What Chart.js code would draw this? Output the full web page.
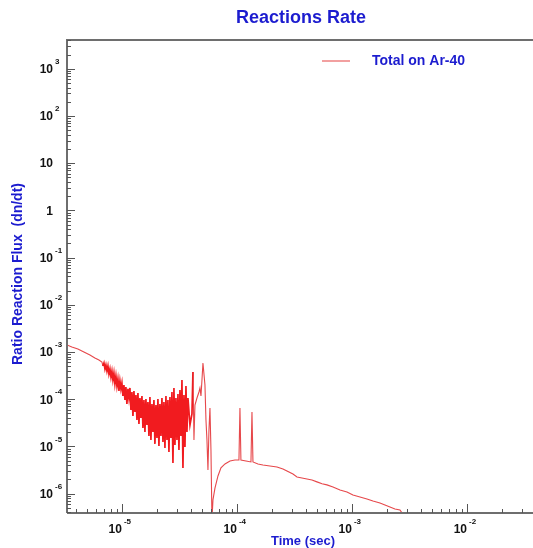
<!DOCTYPE html>
<html>
<head>
<meta charset="utf-8">
<script src="https://cdn.jsdelivr.net/npm/chart.js@4.4.1/dist/chart.umd.min.js"></script>
<style>
  html, body { margin: 0; padding: 0; background: #ffffff; }
  #wrap { width: 533px; height: 548px; }
</style>
</head>
<body>
<div id="wrap"><canvas id="chart" width="533" height="548"></canvas></div>
<script>
// Reactions rate, total on Ar-40 (log-log)
const timeSec = [
  3.33e-6, 3.67e-6, 4.14e-6, 4.67e-6, 5.27e-6, 5.82e-6, 6.31e-6, 6.70e-6,
  6.84e-6, 6.98e-6, 7.12e-6, 7.26e-6, 7.41e-6, 7.56e-6, 7.71e-6, 7.87e-6,
  8.03e-6, 8.19e-6, 8.35e-6, 8.52e-6, 8.69e-6, 8.87e-6, 9.05e-6, 9.23e-6,
  9.42e-6, 9.61e-6, 9.80e-6, 1.00e-5, 1.02e-5, 1.041e-5, 1.062e-5, 1.083e-5,
  1.105e-5, 1.128e-5, 1.151e-5, 1.174e-5, 1.198e-5, 1.222e-5, 1.247e-5, 1.272e-5,
  1.298e-5, 1.324e-5, 1.351e-5, 1.378e-5, 1.406e-5, 1.434e-5, 1.463e-5, 1.493e-5,
  1.523e-5, 1.554e-5, 1.585e-5, 1.617e-5, 1.650e-5, 1.683e-5, 1.717e-5, 1.752e-5,
  1.787e-5, 1.824e-5, 1.860e-5, 1.898e-5, 1.936e-5, 1.976e-5, 2.016e-5, 2.056e-5,
  2.098e-5, 2.140e-5, 2.184e-5, 2.228e-5, 2.273e-5, 2.319e-5, 2.366e-5, 2.414e-5,
  2.463e-5, 2.512e-5, 2.563e-5, 2.615e-5, 2.668e-5, 2.722e-5, 2.777e-5, 2.833e-5,
  2.891e-5, 2.949e-5, 3.009e-5, 3.070e-5, 3.132e-5, 3.195e-5, 3.260e-5, 3.326e-5,
  3.393e-5, 3.462e-5, 3.532e-5, 3.603e-5, 3.676e-5, 3.750e-5, 3.904e-5, 4.063e-5,
  4.145e-5, 4.229e-5, 4.315e-5, 4.491e-5, 4.675e-5, 4.769e-5, 4.866e-5, 4.964e-5,
  5.064e-5, 5.271e-5, 5.378e-5, 5.486e-5, 5.597e-5, 5.711e-5, 5.826e-5, 5.944e-5,
  6.064e-5, 6.187e-5, 6.44e-5, 6.84e-5, 7.26e-5, 7.87e-5, 8.70e-5, 9.61e-5,
  1.041e-4, 1.062e-4, 1.083e-4, 1.198e-4, 1.324e-4, 1.351e-4, 1.378e-4, 1.523e-4,
  1.683e-4, 1.936e-4, 2.228e-4, 2.512e-4, 2.722e-4, 3.070e-4, 3.326e-4, 3.676e-4,
  4.063e-4, 4.49e-4, 4.96e-4, 5.49e-4, 6.06e-4, 6.84e-4, 7.87e-4, 9.05e-4,
  1.020e-3, 1.174e-3, 1.350e-3, 1.523e-3, 1.752e-3, 1.936e-3, 2.140e-3, 2.366e-3,
  2.615e-3, 2.833e-3
];

const totalOnAr40 = [
  1.41e-3, 1.28e-3, 1.16e-3, 1.00e-3, 8.64e-4, 7.46e-4, 6.77e-4, 6.14e-4,
  5.05e-4, 5.85e-4, 4.36e-4, 5.30e-4, 3.96e-4, 5.05e-4, 3.42e-4, 4.36e-4,
  2.95e-4, 3.96e-4, 2.55e-4, 3.59e-4, 2.10e-4, 3.10e-4, 1.90e-4, 2.68e-4,
  1.49e-4, 2.43e-4, 1.65e-4, 2.20e-4, 1.17e-4, 2.00e-4, 9.62e-5, 1.81e-4,
  7.92e-5, 1.65e-4, 1.06e-4, 1.73e-4, 5.91e-5, 1.42e-4, 4.41e-5, 1.49e-4,
  5.36e-5, 1.23e-4, 3.63e-5, 1.35e-4, 2.98e-5, 1.06e-4, 4.00e-5, 1.17e-4,
  2.46e-5, 9.62e-5, 2.02e-5, 1.01e-4, 2.84e-5, 8.73e-5, 1.66e-5, 1.11e-4,
  1.37e-5, 7.92e-5, 2.02e-5, 9.62e-5, 1.13e-5, 7.54e-5, 1.51e-5, 1.01e-4,
  1.02e-5, 7.92e-5, 1.66e-5, 1.06e-4, 1.24e-5, 8.73e-5, 9.26e-6, 1.17e-4,
  1.37e-5, 9.62e-5, 7.62e-6, 1.11e-4, 1.51e-5, 1.42e-4, 4.46e-6, 1.73e-4,
  1.07e-5, 1.06e-4, 1.37e-5, 1.29e-4, 8.40e-6, 1.57e-4, 1.66e-5, 2.55e-4,
  3.50e-6, 1.23e-4, 9.72e-6, 1.90e-4, 2.02e-5, 1.06e-4, 2.84e-5, 4.86e-5,
  3.77e-4, 1.37e-5, 7.54e-5, 1.06e-4, 1.42e-4, 1.73e-4, 1.17e-4, 2.55e-4,
  5.85e-4, 2.00e-4, 3.63e-5, 1.37e-5, 3.17e-6, 2.23e-5, 6.51e-5, 8.40e-6,
  2.77e-7, 7.34e-7, 1.31e-6, 2.36e-6, 3.50e-6, 4.24e-6, 4.91e-6, 5.16e-6,
  5.16e-6, 6.51e-5, 5.16e-6, 4.91e-6, 4.68e-6, 5.36e-5, 4.68e-6, 4.24e-6,
  4.04e-6, 3.85e-6, 3.67e-6, 3.33e-6, 3.02e-6, 2.60e-6, 2.25e-6, 2.14e-6,
  2.04e-6, 1.94e-6, 1.77e-6, 1.61e-6, 1.53e-6, 1.38e-6, 1.19e-6, 1.08e-6,
  9.33e-7, 8.50e-7, 7.71e-7, 6.99e-7, 6.34e-7, 5.75e-7, 5.22e-7, 4.73e-7,
  4.51e-7, 3.36e-7
];

const xDecades = [-6, -5, -4, -3, -2];
const yDecades = [-6, -5, -4, -3, -2, -1, 0, 1, 2, 3];

const X_MIN = 3.33e-6, X_MAX = 3.75e-2;
const Y_MIN = 3.88e-7, Y_MAX = 4.07e3;

// index range of the dense, oscillating part (drawn a bit heavier)
const NOISY_FROM = 8, NOISY_TO = 96;

const BLUE = '#1c1ccf';
const AXIS = '#6e6e6e';

function decadeLabel(e) {
  if (e === 0) return ['1', ''];
  if (e === 1) return ['10', ''];
  return ['10', String(e)];
}

const framePlugin = {
  id: 'frame',
  afterDraw(chart) {
    const ctx = chart.ctx;
    const a = chart.chartArea;
    const xs = chart.scales.x, ys = chart.scales.y;
    ctx.save();

    // frame
    ctx.strokeStyle = AXIS;
    ctx.lineWidth = 2;
    ctx.beginPath();
    ctx.moveTo(a.left, a.bottom);
    ctx.lineTo(a.left, a.top);
    ctx.lineTo(a.right, a.top);
    ctx.moveTo(a.left, a.bottom);
    ctx.lineTo(a.right, a.bottom);
    ctx.stroke();

    // ticks
    ctx.lineWidth = 1;
    ctx.strokeStyle = '#555';
    ctx.beginPath();
    for (const e of yDecades.concat([-7, 4])) {
      for (let m = 1; m <= 9; m++) {
        const v = m * Math.pow(10, e);
        if (v < Y_MIN || v > Y_MAX) continue;
        const py = Math.round(ys.getPixelForValue(v)) + 0.5;
        const len = m === 1 ? 8 : 4;
        ctx.moveTo(a.left, py);
        ctx.lineTo(a.left + len, py);
      }
    }
    for (const e of xDecades) {
      for (let m = 1; m <= 9; m++) {
        const v = m * Math.pow(10, e);
        if (v < X_MIN || v > X_MAX) continue;
        const px = Math.round(xs.getPixelForValue(v)) + 0.5;
        const len = m === 1 ? 9 : 4;
        ctx.moveTo(px, a.bottom);
        ctx.lineTo(px, a.bottom - len);
      }
    }
    ctx.stroke();

    // y tick labels
    ctx.fillStyle = '#111';
    for (const e of yDecades) {
      const py = ys.getPixelForValue(Math.pow(10, e));
      const [base, sup] = decadeLabel(e);
      ctx.font = 'bold 12px "Liberation Sans", Arial, sans-serif';
      ctx.textAlign = 'right';
      ctx.textBaseline = 'middle';
      ctx.fillText(base, a.left - 14, py + 1);
      if (sup) {
        ctx.font = 'bold 8px "Liberation Sans", Arial, sans-serif';
        ctx.textAlign = 'left';
        ctx.fillText(sup, a.left - 12, py - 7);
      }
    }

    // x tick labels
    for (const e of xDecades) {
      const v = Math.pow(10, e);
      if (v < X_MIN || v > X_MAX) continue;
      const px = xs.getPixelForValue(v);
      const [base, sup] = decadeLabel(e);
      ctx.font = 'bold 12px "Liberation Sans", Arial, sans-serif';
      ctx.textAlign = 'right';
      ctx.textBaseline = 'middle';
      ctx.fillText(base, px, a.bottom + 17);
      if (sup) {
        ctx.font = 'bold 8px "Liberation Sans", Arial, sans-serif';
        ctx.textAlign = 'left';
        ctx.fillText(sup, px + 2, a.bottom + 9);
      }
    }

    // titles
    ctx.fillStyle = BLUE;
    ctx.textAlign = 'center';
    ctx.textBaseline = 'middle';
    ctx.font = 'bold 18px "Liberation Sans", Arial, sans-serif';
    ctx.fillText('Reactions Rate', (a.left + a.right) / 2 + 1, 18);
    ctx.font = 'bold 13px "Liberation Sans", Arial, sans-serif';
    ctx.fillText('Time (sec)', (a.left + a.right) / 2 + 3, 541);
    ctx.save();
    ctx.translate(18, 274);
    ctx.rotate(-Math.PI / 2);
    ctx.font = 'bold 14px "Liberation Sans", Arial, sans-serif';
    ctx.fillText('Ratio Reaction Flux  (dn/dt)', 0, 0);
    ctx.restore();

    // legend
    ctx.strokeStyle = '#f2a0a0';
    ctx.lineWidth = 2;
    ctx.beginPath();
    ctx.moveTo(322, 61);
    ctx.lineTo(350, 61);
    ctx.stroke();
    ctx.fillStyle = BLUE;
    ctx.textAlign = 'left';
    ctx.font = 'bold 14px "Liberation Sans", Arial, sans-serif';
    ctx.fillText('Total on Ar-40', 372, 61);

    ctx.restore();
  }
};

const inNoise = (ctx) => ctx.p0DataIndex >= NOISY_FROM && ctx.p1DataIndex <= NOISY_TO;

new Chart(document.getElementById('chart'), {
  type: 'line',
  data: {
    datasets: [{
      label: 'Total on Ar-40',
      data: timeSec.map((t, i) => ({ x: t, y: totalOnAr40[i] })),
      borderColor: 'rgba(228, 30, 34, 0.85)',
      borderWidth: 1.1,
      pointRadius: 0,
      tension: 0,
      fill: false,
      clip: 0,
      segment: {
        borderWidth: (ctx) => inNoise(ctx) ? 1.7 : 1.1,
        borderColor: (ctx) => inNoise(ctx) ? 'rgba(240, 8, 12, 0.92)' : 'rgba(226, 40, 44, 0.85)',
      },
    }],
  },
  options: {
    responsive: false,
    devicePixelRatio: 1,
    animation: false,
    layout: { padding: { left: 67, top: 40, right: 0, bottom: 35 } },
    plugins: {
      legend: { display: false },
      title: { display: false },
      tooltip: { enabled: false },
    },
    scales: {
      x: { type: 'logarithmic', min: X_MIN, max: X_MAX, display: false },
      y: { type: 'logarithmic', min: Y_MIN, max: Y_MAX, display: false },
    },
  },
  plugins: [framePlugin],
});
</script>
</body>
</html>
